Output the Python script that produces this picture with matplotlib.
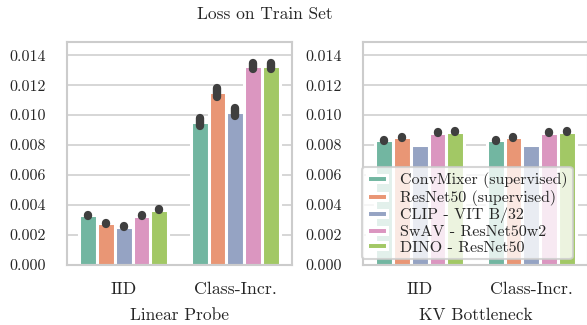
import matplotlib
matplotlib.use("Agg")
import matplotlib.pyplot as plt
import seaborn as sns
import numpy as np

sns.set_style("whitegrid")
plt.rcParams["font.family"] = ["serif"]
plt.rcParams["font.serif"] = ["cmr10", "DejaVu Serif"]
plt.rcParams["axes.formatter.use_mathtext"] = True

conditions = ["IID", "Class-Incr."]
models = ["ConvMixer (supervised)", "ResNet50 (supervised)", "CLIP - VIT B/32",
          "SwAV - ResNet50w2", "DINO - ResNet50"]
panels = ["Linear Probe", "KV Bottleneck"]

# mean loss per model (rows) and condition (columns)
linear_probe_mean = [
    [0.00333, 0.00953],
    [0.00278, 0.01152],
    [0.00256, 0.01019],
    [0.00329, 0.01325],
    [0.00369, 0.01328],
]
linear_probe_err = [
    [0.00003, 0.00027],
    [0.00003, 0.00032],
    [0.00003, 0.00026],
    [0.00003, 0.00020],
    [0.00003, 0.00019],
]
kv_bottleneck_mean = [
    [0.00831, 0.00831],
    [0.00851, 0.00851],
    [0.00800, 0.00800],
    [0.00884, 0.00884],
    [0.00889, 0.00889],
]
kv_bottleneck_err = [
    [0.00002, 0.00002],
    [0.00002, 0.00002],
    [0.00002, 0.00002],
    [0.00002, 0.00002],
    [0.00002, 0.00002],
]

yticks = [0.000, 0.002, 0.004, 0.006, 0.008, 0.010, 0.012, 0.014]

palette = [sns.desaturate(c, 0.75) for c in sns.color_palette("Set2", 5)]
text_color = "#262626"

W, H = 587, 325
fig = plt.figure(figsize=(W / 100, H / 100), dpi=100)
ax_lp = fig.add_axes([67.3 / W, 60 / H, 224.4 / W, 223.3 / H])
ax_kv = fig.add_axes([363.3 / W, 60 / H, 224.4 / W, 223.3 / H])

width = 0.8 / len(models)
x = np.arange(len(conditions))

for ax, name, means, errs in [(ax_lp, panels[0], linear_probe_mean, linear_probe_err),
                              (ax_kv, panels[1], kv_bottleneck_mean, kv_bottleneck_err)]:
    for i, (model, m, e) in enumerate(zip(models, means, errs)):
        xs = x - 0.4 + width * (i + 0.5)
        ax.bar(xs, m, width=width, color=palette[i], edgecolor="white",
               linewidth=2.2, label=model, zorder=2)
        for xi, mi, ei in zip(xs, m, e):
            ax.plot([xi, xi], [mi - ei, mi + ei], color="#3f3f3f", lw=6,
                    solid_capstyle="round", zorder=3)
    ax.set_xlim(-0.505, 1.505)
    ax.set_ylim(0, 0.0149)
    ax.set_yticks(yticks)
    ax.set_yticklabels([f"{v:.3f}" for v in yticks], fontsize=11.5, color=text_color)
    ax.set_xticks(x)
    ax.set_xticklabels(conditions, fontsize=12.8, color=text_color)
    ax.tick_params(axis="x", pad=12, length=0)
    ax.tick_params(axis="y", pad=15.5, length=0)
    ax.set_xlabel(name, fontsize=12.5, labelpad=8, color=text_color)
    ax.grid(True, axis="y", color="#d0d0d0", lw=1.2, zorder=0)
    ax.grid(False, axis="x")
    ax.set_axisbelow(True)
    for s in ax.spines.values():
        s.set_color("#cccccc")
        s.set_linewidth(1.5)

leg = ax_kv.legend(loc="lower left", bbox_to_anchor=(-0.007, 0.0255), fontsize=11.5,
                   frameon=True, borderaxespad=0, handlelength=1.31, handleheight=0.31,
                   borderpad=0.3, labelspacing=0.12, handletextpad=0.8)
for t in leg.get_texts():
    t.set_color(text_color)
leg.get_frame().set_edgecolor("#cccccc")
leg.get_frame().set_linewidth(1.5)
leg.get_frame().set_alpha(0.8)

fig.text(265 / W, 1 - 14 / H, "Loss on Train Set", ha="center", va="center",
         fontsize=12.5, color=text_color)

fig.savefig("out.png", dpi=100)
